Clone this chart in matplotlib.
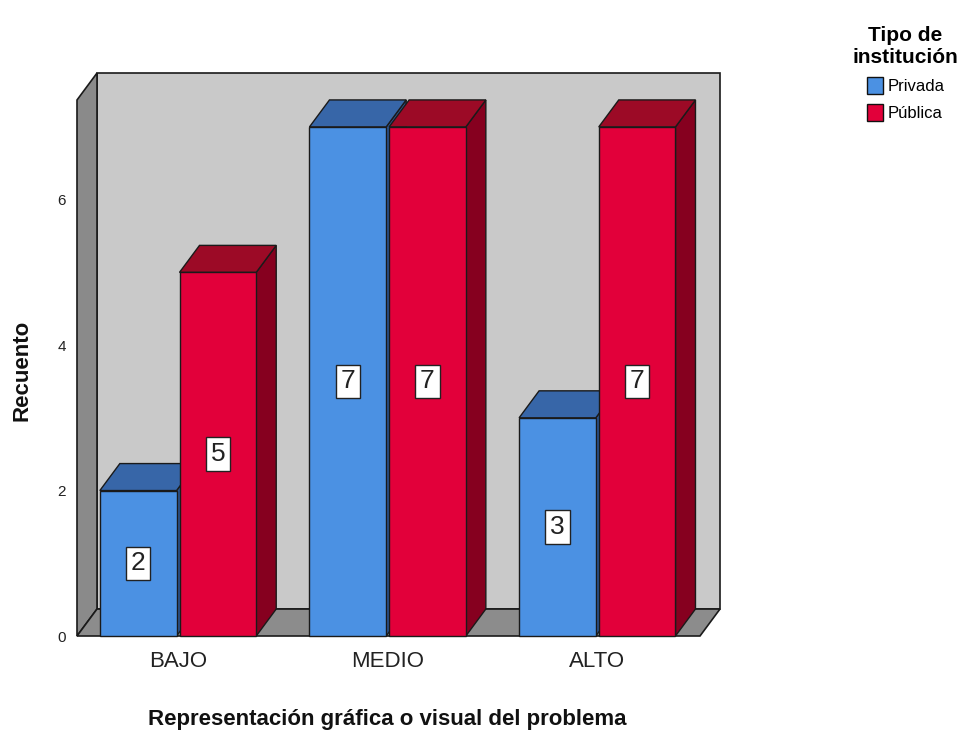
import matplotlib
matplotlib.use("Agg")
import matplotlib.pyplot as plt
from matplotlib.patches import Polygon, Rectangle, Patch

plt.rcParams['font.family'] = ['Liberation Sans', 'DejaVu Sans']

categories = ["BAJO", "MEDIO", "ALTO"]
series_names = ["Privada", "Pública"]
privada = [2, 7, 3]
publica = [5, 7, 7]
y_ticks = [0, 2, 4, 6]

front_cols = {"Privada": "#4b91e3", "Pública": "#e2003a"}
top_cols = {"Privada": "#3766a8", "Pública": "#9c0a26"}
side_cols = {"Privada": "#2b5593", "Pública": "#86001f"}

fig = plt.figure(figsize=(9.7, 7.33), dpi=100)
fig.patch.set_facecolor("white")
ax = fig.add_axes([77 / 970, 97 / 733, 623 / 970, 536 / 733])
ax.set_facecolor("none")

xl, xr = -0.482, 2.49
ytop = 7.37
ax.set_xlim(xl, xr)
ax.set_ylim(0, ytop)

# depth of the 3D box, in data units
dx, dy = 0.0954, 0.371

edge = "#1a1a1a"
# back wall
ax.add_patch(Rectangle((xl + dx, dy), xr - xl, ytop, facecolor="#c9c9c9",
                       edgecolor=edge, lw=1.2, clip_on=False, zorder=1))
# left wall
ax.add_patch(Polygon([(xl, 0), (xl + dx, dy), (xl + dx, ytop + dy), (xl, ytop)],
                     closed=True, facecolor="#8a8a8a", edgecolor=edge, lw=1.2,
                     clip_on=False, zorder=2))
# floor
ax.add_patch(Polygon([(xl, 0), (xr, 0), (xr + dx, dy), (xl + dx, dy)],
                     closed=True, facecolor="#8c8c8c", edgecolor=edge, lw=1.2,
                     clip_on=False, zorder=2))

width = 0.366
offsets = {"Privada": -0.19, "Pública": 0.19}
values = {"Privada": privada, "Pública": publica}

z = 3
for i, cat in enumerate(categories):
    for name in series_names:
        v = values[name][i]
        x0 = i + offsets[name] - width / 2
        x1 = x0 + width
        # side face
        ax.add_patch(Polygon([(x1, 0), (x1 + dx, dy), (x1 + dx, v + dy), (x1, v)],
                             closed=True, facecolor=side_cols[name], edgecolor=edge,
                             lw=1.0, clip_on=False, zorder=z))
        # top face
        ax.add_patch(Polygon([(x0, v), (x1, v), (x1 + dx, v + dy), (x0 + dx, v + dy)],
                             closed=True, facecolor=top_cols[name], edgecolor=edge,
                             lw=1.0, clip_on=False, zorder=z))
        # front face
        ax.add_patch(Rectangle((x0, 0), width, v, facecolor=front_cols[name],
                               edgecolor=edge, lw=1.0, clip_on=False, zorder=z + 0.5))
        ax.text((x0 + x1) / 2, v / 2, str(v), ha="center", va="center",
                fontsize=19, color="#222222", zorder=z + 1,
                bbox=dict(boxstyle="square,pad=0.18", facecolor="white",
                          edgecolor="#222222", lw=1.0))
        z += 2

for s in ax.spines.values():
    s.set_visible(False)

ax.set_xticks(range(len(categories)))
ax.set_xticklabels(categories, fontsize=16, color="#222222")
ax.tick_params(axis="x", length=0, pad=11)
ax.set_yticks(y_ticks)
ax.set_yticklabels([str(t) for t in y_ticks], fontsize=11, color="#222222")
ax.tick_params(axis="y", length=0, pad=8)

ax.set_ylabel("Recuento", fontsize=16, fontweight="bold", color="#111111")
ax.yaxis.set_label_coords(-0.072, 0.496)
ax.set_xlabel("Representación gráfica o visual del problema", fontsize=16,
              fontweight="bold", color="#111111")
ax.xaxis.set_label_coords(0.498, -0.137)

handles = [Patch(facecolor=front_cols[n], edgecolor="#111111", lw=1.0) for n in series_names]
leg = fig.legend(handles, series_names, title="Tipo de\ninstitución",
                 loc="upper left", bbox_to_anchor=(841 / 970, 1 - 14 / 733),
                 frameon=False, fontsize=12, title_fontsize=15,
                 handlelength=1.0, handleheight=1.2, handletextpad=0.25,
                 labelspacing=0.6, borderpad=0.2)
leg.get_title().set_fontweight("bold")
leg.get_title().set_multialignment("center")

fig.savefig("out.png", dpi=100, facecolor="white")
